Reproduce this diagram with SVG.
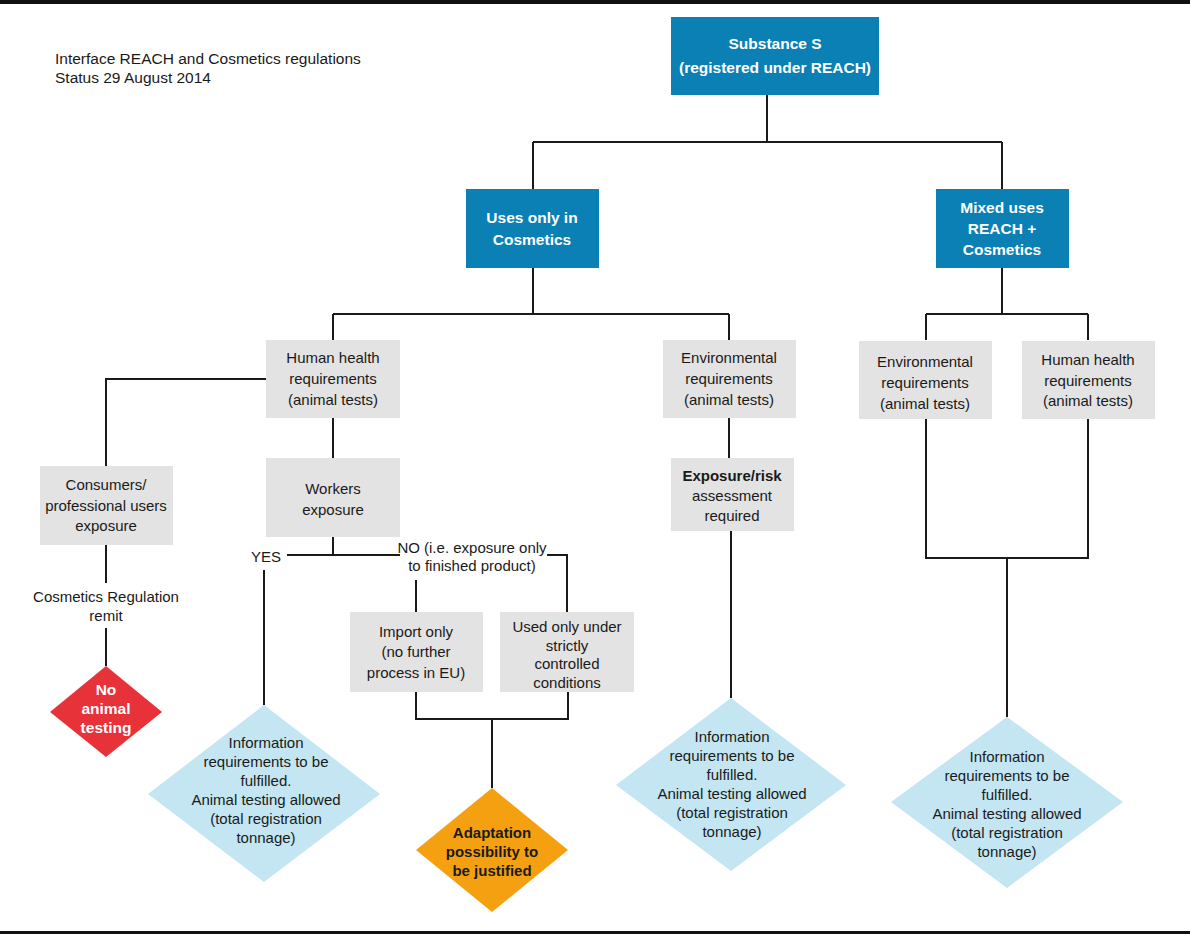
<svg xmlns="http://www.w3.org/2000/svg" width="1190" height="936" viewBox="0 0 1190 936">
<style>
text{font-family:"Liberation Sans",Arial,sans-serif;font-size:15px;text-anchor:middle;fill:#1a1a1a}
.bb{fill:#0a80b5}
.gb{fill:#e3e3e3}
.wt{fill:#fff;font-weight:bold;font-size:15.5px}
.ld{fill:#c3e6f2}
.title{text-anchor:start;font-size:15.5px}
.bd{font-weight:bold}
#connectors path{fill:none;stroke:#1a1a1a;stroke-width:2}
</style>
<rect x="0" y="0" width="1190" height="4" fill="#111"/>
<rect x="0" y="931" width="1190" height="3" fill="#111"/>
<g id="title">
<text class="title" x="55" y="64">Interface REACH and Cosmetics regulations</text>
<text class="title" x="55" y="83">Status 29 August 2014</text>
</g>
<g id="connectors">
<path d="M767 95V142M533 142H1002M533 142V189M1002 142V189"/>
<path d="M533 268V314M333 314H729M333 314V340M729 314V340"/>
<path d="M266 379H106V466"/>
<path d="M106 545V583M106 628V666"/>
<path d="M333 418V458"/>
<path d="M333 537V555M287 555H400"/>
<path d="M264 570V705"/>
<path d="M547 555H567V612M416 580V612"/>
<path d="M416 692V719H568V692M492 719V788"/>
<path d="M729 418V458M731 531V698"/>
<path d="M1002 268V314M926 314H1088M926 314V340M1088 314V340"/>
<path d="M926 419V558H1088V419M1007 558V717"/>
</g>
<g id="substance">
<rect class="bb" x="671" y="17" width="208" height="78"/>
<text class="wt" x="775" y="49" font-size="16">Substance S</text>
<text class="wt" x="775" y="73" font-size="16">(registered under REACH)</text>
</g>
<g id="uses-only">
<rect class="bb" x="466" y="189" width="133" height="79"/>
<text class="wt" x="532" y="223">Uses only in</text>
<text class="wt" x="532" y="245">Cosmetics</text>
</g>
<g id="mixed">
<rect class="bb" x="936" y="189" width="133" height="79"/>
<text class="wt" x="1002" y="213">Mixed uses</text>
<text class="wt" x="1002" y="234">REACH +</text>
<text class="wt" x="1002" y="255">Cosmetics</text>
</g>
<g id="human-health">
<rect class="gb" x="266" y="340" width="134" height="78"/>
<text x="333" y="363">Human health</text>
<text x="333" y="384">requirements</text>
<text x="333" y="405">(animal tests)</text>
</g>
<g id="env-left">
<rect class="gb" x="663" y="340" width="133" height="78"/>
<text x="729" y="363">Environmental</text>
<text x="729" y="384">requirements</text>
<text x="729" y="405">(animal tests)</text>
</g>
<g id="env-right">
<rect class="gb" x="859" y="341" width="133" height="78"/>
<text x="925" y="367">Environmental</text>
<text x="925" y="388">requirements</text>
<text x="925" y="409">(animal tests)</text>
</g>
<g id="human-right">
<rect class="gb" x="1022" y="341" width="133" height="78"/>
<text x="1088" y="365">Human health</text>
<text x="1088" y="386">requirements</text>
<text x="1088" y="406">(animal tests)</text>
</g>
<g id="consumers">
<rect class="gb" x="40" y="466" width="133" height="79"/>
<text x="106" y="490">Consumers/</text>
<text x="106" y="511">professional users</text>
<text x="106" y="531">exposure</text>
</g>
<g id="cosm-remit">
<text x="106" y="602">Cosmetics Regulation</text>
<text x="106" y="621">remit</text>
</g>
<g id="no-animal">
<polygon points="106,666 162,712 106,757 50,712" fill="#e8323a"/>
<text class="wt" x="106" y="695" font-size="15">No</text>
<text class="wt" x="106" y="714" font-size="15">animal</text>
<text class="wt" x="106" y="733" font-size="15">testing</text>
</g>
<g id="workers">
<rect class="gb" x="266" y="458" width="134" height="79"/>
<text x="333" y="494">Workers</text>
<text x="333" y="515">exposure</text>
</g>
<g id="yes-label"><text x="266" y="562" font-size="14">YES</text></g>
<g id="no-label">
<text x="472" y="553" font-size="13.5">NO (i.e. exposure only</text>
<text x="472" y="571" font-size="13.5">to finished product)</text>
</g>
<g id="import-only">
<rect class="gb" x="350" y="612" width="133" height="80"/>
<text x="416" y="637">Import only</text>
<text x="416" y="657">(no further</text>
<text x="416" y="678">process in EU)</text>
</g>
<g id="used-only">
<rect class="gb" x="500" y="612" width="134" height="80"/>
<text x="567" y="632">Used only under</text>
<text x="567" y="651">strictly</text>
<text x="567" y="669">controlled</text>
<text x="567" y="688">conditions</text>
</g>
<g id="exposure-risk">
<rect class="gb" x="671" y="458" width="123" height="73"/>
<text class="bd" x="732" y="481">Exposure/risk</text>
<text x="732" y="501">assessment</text>
<text x="732" y="521">required</text>
</g>
<g id="info-left">
<polygon class="ld" points="264,705 380,794 264,882 148,794"/>
<text x="266" y="748">Information</text>
<text x="266" y="767">requirements to be</text>
<text x="266" y="786">fulfilled.</text>
<text x="266" y="805">Animal testing allowed</text>
<text x="266" y="824">(total registration</text>
<text x="266" y="843">tonnage)</text>
</g>
<g id="adaptation">
<polygon points="492,788 568,850 492,912 416,850" fill="#f5a011"/>
<text class="bd" x="492" y="838" font-size="14">Adaptation</text>
<text class="bd" x="492" y="857" font-size="14">possibility to</text>
<text class="bd" x="492" y="876" font-size="14">be justified</text>
</g>
<g id="info-mid">
<polygon class="ld" points="731,698 846,785 731,871 616,785"/>
<text x="732" y="742">Information</text>
<text x="732" y="761">requirements to be</text>
<text x="732" y="780">fulfilled.</text>
<text x="732" y="799">Animal testing allowed</text>
<text x="732" y="818">(total registration</text>
<text x="732" y="837">tonnage)</text>
</g>
<g id="info-right">
<polygon class="ld" points="1007,717 1123,802 1007,888 891,802"/>
<text x="1007" y="762">Information</text>
<text x="1007" y="781">requirements to be</text>
<text x="1007" y="800">fulfilled.</text>
<text x="1007" y="819">Animal testing allowed</text>
<text x="1007" y="838">(total registration</text>
<text x="1007" y="857">tonnage)</text>
</g>
</svg>
